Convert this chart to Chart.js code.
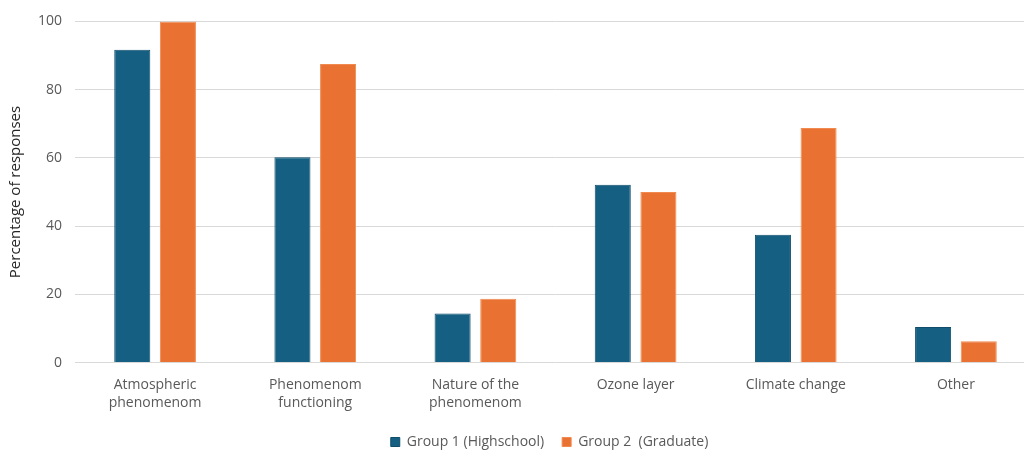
<!DOCTYPE html>
<html>
<head>
<meta charset="utf-8">
<script src="https://cdn.jsdelivr.net/npm/chart.js@4/dist/chart.umd.min.js"></script>
<style>
  html, body { margin: 0; padding: 0; background: #fff; overflow: hidden; }
  /* the original plot runs a little past the right edge of the picture */
  #wrap { width: 1040px; height: 450px; }
</style>
</head>
<body>
<div id="wrap"><canvas id="chart"></canvas></div>
<script>
const categories = [
    ['Atmospheric', 'phenomenom'],
    ['Phenomenom', 'functioning'],
    ['Nature of the', 'phenomenom'],
    'Ozone layer',
    'Climate change',
    'Other'
];
const group1 = [91.7, 60.2, 14.4, 52.1, 37.5, 10.4];
const group2 = [100, 87.5, 18.75, 50, 68.75, 6.25];
const seriesNames = ['Group 1 (Highschool)', 'Group 2  (Graduate)'];
const yTicks = [0, 20, 40, 60, 80, 100];

const textColor = '#595959';
const fontFamily = '"Open Sans", "Liberation Sans", sans-serif';
const visibleWidth = 1024;

// legend sits centred on the visible plot area, not on the whole canvas
const shiftLegend = {
    id: 'shiftLegend',
    afterLayout(chart) {
        const lg = chart.legend;
        const mid = (chart.chartArea.left + Math.min(chart.chartArea.right, visibleWidth)) / 2;
        const off = mid - (lg.left + lg.right) / 2;
        lg.left += off;
        lg.right += off;
    }
};

const ctx = document.getElementById('chart').getContext('2d');
new Chart(ctx, {
    type: 'bar',
    data: {
        labels: categories,
        datasets: [{
            label: seriesNames[0],
            data: group1,
            backgroundColor: '#156082',
            borderColor: '#0f4d6b',
            borderWidth: 1,
            categoryPercentage: 0.57,
            barPercentage: 0.79
        }, {
            label: seriesNames[1],
            data: group2,
            backgroundColor: '#e97132',
            borderColor: '#f08a50',
            borderWidth: 1,
            categoryPercentage: 0.57,
            barPercentage: 0.79
        }]
    },
    options: {
        responsive: true,
        maintainAspectRatio: false,
        animation: false,
        layout: {
            padding: { left: 5, right: 4, top: -1, bottom: -9 }
        },
        plugins: {
            legend: {
                position: 'bottom',
                labels: {
                    color: textColor,
                    boxWidth: 9,
                    boxHeight: 9,
                    padding: 18,
                    font: { family: fontFamily, size: 14 }
                }
            },
            tooltip: { enabled: false }
        },
        scales: {
            x: {
                grid: { display: false },
                border: { display: false },
                ticks: {
                    color: textColor,
                    maxRotation: 0,
                    padding: 5,
                    font: { family: fontFamily, size: 14, lineHeight: 1.3 }
                }
            },
            y: {
                min: 0,
                max: 100,
                afterBuildTicks: axis => {
                    axis.ticks = yTicks.map(v => ({ value: v }));
                },
                grid: { color: '#d9d9d9', lineWidth: 1, drawTicks: false },
                border: { display: false },
                ticks: {
                    color: textColor,
                    padding: 13,
                    font: { family: fontFamily, size: 14 }
                },
                title: {
                    display: true,
                    text: 'Percentage of responses',
                    color: '#262626',
                    padding: { top: 2, bottom: 0 },
                    font: { family: fontFamily, size: 15 }
                }
            }
        }
    },
    plugins: [shiftLegend]
});
</script>
</body>
</html>
